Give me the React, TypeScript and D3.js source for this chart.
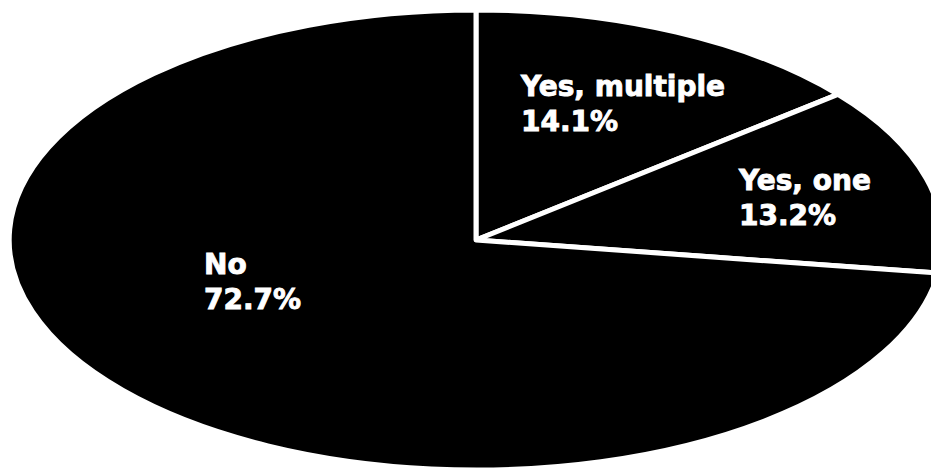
import React from "react";
import * as d3 from "d3";

const categories = ["Yes, multiple", "Yes, one", "No"];
const values = [14.1, 13.2, 72.7];
const valueLabels = ["14.1%", "13.2%", "72.7%"];

// layout only: left/baseline of each label block
const labelPos: Record<string, [number, number]> = {
  "Yes, multiple": [521, 96],
  "Yes, one": [739, 190],
  "No": [204, 274],
};

const W = 931;
const H = 469;
const CX = 476;
const CY = 240;
const RX = 467;
const RY = 230;

export default function App() {
  const data = categories.map((c, i) => ({ name: c, value: values[i], label: valueLabels[i] }));
  const pie = d3.pie<any>().sort(null).value((d) => d.value);
  const arcs = pie(data);
  const arc = d3.arc<any>().innerRadius(0).outerRadius(1);

  return (
    <svg width={W} height={H} style={{ position: "absolute", left: 0, top: 0, background: "#fff" }}>
      <g transform={`translate(${CX},${CY}) scale(${RX},${RY})`}>
        {arcs.map((a, i) => (
          <path
            key={i}
            d={arc(a) || ""}
            fill="#000"
            stroke="#fff"
            strokeWidth={5}
            strokeLinejoin="round"
            vectorEffect="non-scaling-stroke"
          />
        ))}
      </g>
      {data.map((d) => {
        const [x, y] = labelPos[d.name];
        return (
          <text
            key={d.name}
            x={x}
            y={y}
            fill="#fff"
            stroke="#fff"
            strokeWidth={0.9}
            fontFamily="DejaVu Sans"
            fontWeight="bold"
            fontSize={28}
          >
            <tspan x={x} y={y}>{d.name}</tspan>
            <tspan x={x} y={y + 35}>{d.label}</tspan>
          </text>
        );
      })}
    </svg>
  );
}
